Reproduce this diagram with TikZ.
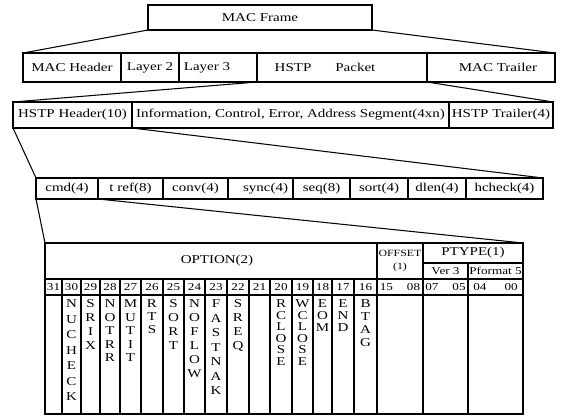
\documentclass[tikz,border=0pt]{standalone}
\usepackage{fontspec}
\setmainfont{Liberation Serif}[FakeStretch=1.25]
\begin{document}
\begin{tikzpicture}[x=1pt,y=-1pt,line width=1.05pt,
  cell/.style={draw,inner sep=0pt,outer sep=0pt,anchor=north west,font=\fontsize{12}{14}\selectfont},
  small/.style={font=\fontsize{10.5}{12.5}\selectfont},
  tiny/.style={font=\fontsize{9.5}{13}\selectfont},
  conn/.style={line width=1.05pt},
  lettxt/.style={inner sep=0pt,outer sep=0pt,anchor=north,align=center}]
\useasboundingbox (0,0) rectangle (565,417);
\newcommand\mkcell[7][]{\node[cell,minimum width={(#5-#3)*1pt},minimum height={(#6-#4)*1pt},#1] (#2) at (#3,#4) {#7};}
% row 1
\mkcell{macframe}{148}{5}{372}{30}{MAC Frame}
% row 2
\mkcell{machdr}{23}{53}{121}{82}{MAC Header}
\mkcell{layer2}{121}{53}{179}{82}{Layer 2}
\mkcell{layer3}{179}{53}{257}{82}{Layer 3\hspace*{22pt}}
\mkcell{packet}{257}{53}{427}{82}{HSTP\hspace{24pt}Packet\hspace*{34pt}}
\mkcell{mactrl}{427}{53}{555}{82}{\hspace*{14pt}MAC Trailer}
% row 3
\mkcell{hhdr}{13}{102}{132}{128}{HSTP Header(10)}
\mkcell{info}{132}{102}{449}{128}{Information, Control, Error, Address Segment(4xn)}
\mkcell{htrl}{449}{102}{553}{128}{HSTP Trailer(4)}
% row 4
\mkcell{cmd}{36}{178}{98}{199}{cmd(4)}
\mkcell{tref}{98}{178}{163}{199}{t ref(8)}
\mkcell{conv}{163}{178}{228}{199}{conv(4)}
\mkcell{sync}{228}{178}{293}{199}{\hspace*{10pt}sync(4)}
\mkcell{seq}{293}{178}{350}{199}{seq(8)}
\mkcell{sort}{350}{178}{408}{199}{sort(4)}
\mkcell{dlen}{408}{178}{466}{199}{dlen(4)}
\mkcell{hcheck}{466}{178}{543}{199}{hcheck(4)}
% row 5 header
\mkcell{option}{45}{243}{377}{279}{\hspace*{12pt}OPTION(2)}
\mkcell[tiny,align=center]{offset}{377}{243}{423}{279}{OFFSET\\(1)}
\mkcell{ptype}{423}{243}{523}{263}{PTYPE(1)}
\mkcell[small]{ver}{423}{263}{468}{279}{Ver 3}
\mkcell[small]{pformat}{468}{263}{523}{279}{Pformat 5}
% bit columns
\foreach \nm/\xa/\xb/\lt/\ls in {
  31/45/62/{}/14,
  30/62/81/{N\\U\\C\\H\\E\\C\\K}/15.5,
  29/81/100/{S\\R\\I\\X}/14,
  28/100/120/{N\\O\\T\\R\\R}/13.5,
  27/120/141/{M\\U\\T\\I\\T}/13.5,
  26/141/163/{R\\T\\S}/13,
  25/163/184/{S\\O\\R\\T}/14,
  24/184/205/{N\\O\\F\\L\\O\\W}/14,
  23/205/227/{F\\A\\S\\T\\N\\A\\K}/14.5,
  22/227/249/{S\\R\\E\\Q}/14,
  21/249/270/{}/14,
  20/270/292/{R\\C\\L\\O\\S\\E}/11.5,
  19/292/313/{W\\C\\L\\O\\S\\E}/11.5,
  18/313/332/{E\\O\\M}/12,
  17/332/354/{E\\N\\D}/12,
  16/354/377/{B\\T\\A\\G}/13}{
  \mkcell[small]{b\nm}{\xa}{279}{\xb}{295}{\nm}
  \mkcell{l\nm}{\xa}{295}{\xb}{414}{}
  \node[lettxt,font=\fontsize{12}{\ls pt}\selectfont,yshift=-5pt] (t\nm) at (l\nm.north) {\lt};
}
\mkcell[small]{b15}{377}{279}{423}{295}{15\hspace{14pt}08}
\mkcell{l15}{377}{295}{423}{414}{}
\mkcell[small]{b07}{423}{279}{468}{295}{07\hspace{14pt}05}
\mkcell{l07}{423}{295}{468}{414}{}
\mkcell[small]{b04}{468}{279}{523}{295}{04\hspace{18pt}00}
\mkcell{l04}{468}{295}{523}{414}{}
% connectors
\draw[conn] (macframe.south west) -- (machdr.north west);
\draw[conn] (macframe.south east) -- (mactrl.north east);
\draw[conn] (packet.south west) -- (hhdr.north west);
\draw[conn] (packet.south east) -- (htrl.north east);
\draw[conn] (hhdr.south west) -- (cmd.north west);
\draw[conn] (hhdr.south east) -- (hcheck.north east);
\draw[conn] (cmd.south west) -- (option.north west);
\draw[conn] (cmd.south east) -- (ptype.north east);
\end{tikzpicture}
\end{document}
